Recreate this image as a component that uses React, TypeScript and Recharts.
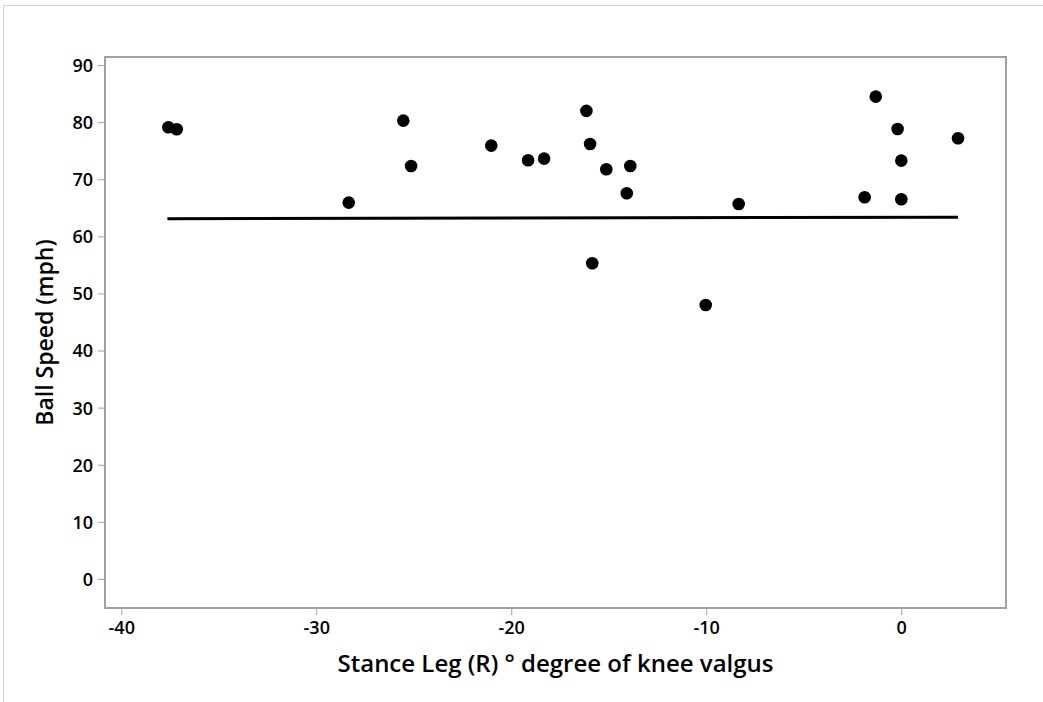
import React from "react"
import { ScatterChart, Scatter, XAxis, YAxis, ReferenceArea } from "recharts"

// knee valgus angle (deg) vs ball speed (mph)
const valgusAngle = [
  -37.61, -37.18, -28.36, -25.56, -25.16, -21.05, -19.16, -18.34, -16.17, -15.98, -15.15,
  -13.92, -14.1, -15.87, -10.05, -8.36, -1.9, -1.33, -0.21, -0.02, -0.02, 2.89,
]
const ballSpeed = [
  79.2, 78.85, 66.0, 80.36, 72.42, 75.98, 73.42, 73.7, 82.06, 76.27, 71.84,
  72.42, 67.64, 55.37, 48.06, 65.76, 66.93, 84.56, 78.9, 73.35, 66.58, 77.27,
]

// fitted regression line end points
const fitX = [-37.66, 2.89]
const fitY = [63.19, 63.43]

const xTicks = [-40, -30, -20, -10, 0]
const yTicks = [0, 10, 20, 30, 40, 50, 60, 70, 80, 90]
const xDomain: [number, number] = [-40.86, 5.35]
const yDomain: [number, number] = [-5, 91.5]

const points = valgusAngle.map((x, i) => ({ x, y: ballSpeed[i] }))
const fitLine = fitX.map((x, i) => ({ x, y: fitY[i] }))

const FONT = "'Open Sans', 'Noto Sans', sans-serif"
const GREY = "#a0a0a0"

const Dot = (props: any) => <circle cx={props.cx} cy={props.cy} r={6.3} fill="#000" />

export default function App() {
  return (
    <div style={{ position: "absolute", left: 0, top: 0, width: 1043, height: 702, background: "#fff", fontFamily: FONT }}>
      <div
        style={{
          position: "absolute",
          left: 3,
          top: 5,
          width: 1040,
          height: 697,
          borderTop: "1px solid #d4d4d4",
          borderLeft: "1px solid #d4d4d4",
        }}
      />
      <ScatterChart width={1043} height={702} margin={{ top: 57, right: 37, bottom: 0, left: 0 }}>
        <ReferenceArea
          x1={xDomain[0]}
          x2={xDomain[1]}
          y1={yDomain[0]}
          y2={yDomain[1]}
          fill="none"
          stroke={GREY}
          strokeWidth={2}
          ifOverflow="visible"
        />
        <XAxis
          type="number"
          dataKey="x"
          domain={xDomain}
          ticks={xTicks}
          allowDataOverflow
          height={94}
          axisLine={false}
          tickSize={7}
          tickMargin={6}
          tickLine={{ stroke: GREY }}
          tick={{ fill: "#000", fontSize: 18, fontWeight: 600, fontFamily: FONT }}
          label={{
            value: "Stance Leg (R) ° degree of knee valgus",
            position: "insideBottom",
            offset: 30,
            fill: "#000",
            fontSize: 24,
            fontWeight: 600,
            fontFamily: FONT,
          }}
        />
        <YAxis
          type="number"
          dataKey="y"
          domain={yDomain}
          ticks={yTicks}
          allowDataOverflow
          width={105}
          axisLine={false}
          tickSize={7}
          tickMargin={5}
          tickLine={{ stroke: GREY }}
          tick={{ fill: "#000", fontSize: 18, fontWeight: 600, fontFamily: FONT }}
          label={{
            value: "Ball Speed (mph)",
            angle: -90,
            position: "insideLeft",
            offset: 45,
            fill: "#000",
            fontSize: 23,
            fontWeight: 600,
            fontFamily: FONT,
            style: { textAnchor: "middle" },
          }}
        />
        <Scatter
          data={fitLine}
          line={{ stroke: "#000", strokeWidth: 3 }}
          shape={() => <g />}
          isAnimationActive={false}
        />
        <Scatter data={points} shape={Dot} isAnimationActive={false} />
      </ScatterChart>
    </div>
  )
}
